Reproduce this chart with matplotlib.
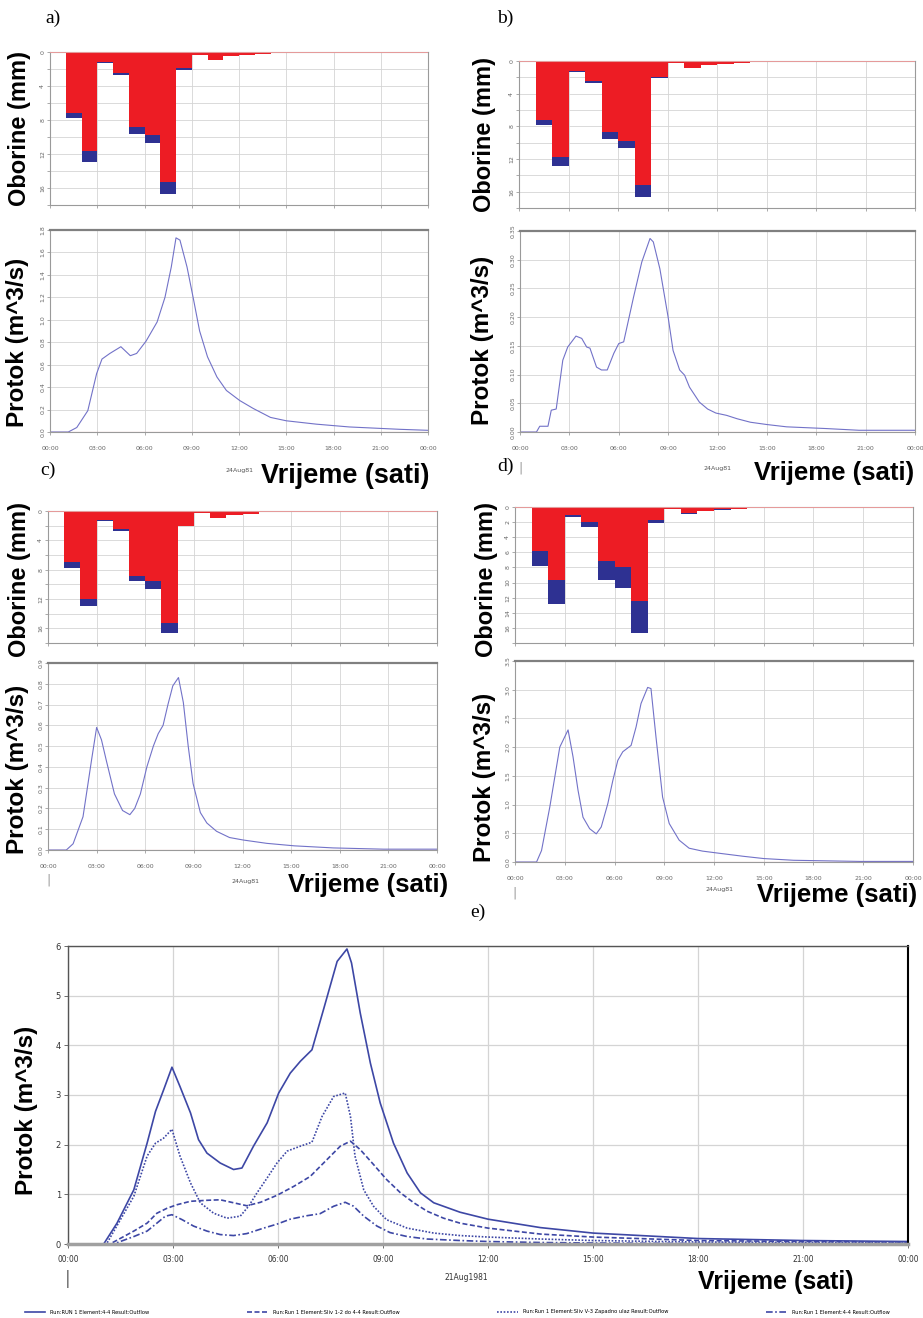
import matplotlib
matplotlib.use('Agg')
import matplotlib.pyplot as plt

W, H = 923, 1318

# hyetograph, 1 h bins (start hour)
rain_hours = [1, 2, 3, 4, 5, 6, 7, 8, 9, 10, 11, 12, 13]
rain_total = [7.8, 12.9, 1.3, 2.7, 9.6, 10.7, 16.7, 2.1, 0.3, 0.9, 0.5, 0.4, 0.2]
excess_a = [0.6, 1.2, 0.1, 0.2, 0.8, 0.9, 1.4, 0.2, 0, 0, 0, 0, 0]
excess_b = [0.6, 1.2, 0.05, 0.2, 0.9, 0.9, 1.5, 0.1, 0, 0, 0, 0, 0]
excess_c = [0.8, 0.9, 0.1, 0.2, 0.8, 1.1, 1.4, 0.1, 0, 0, 0, 0, 0]
excess_d = [2.0, 3.2, 0.2, 0.7, 2.4, 2.7, 4.2, 0.4, 0, 0.1, 0, 0.1, 0]

# hydrographs
t_a = [0, 1.16, 1.7, 2.4, 2.96, 3.3, 3.8, 4.5, 5.1, 5.5, 6.1, 6.8, 7.3, 7.7, 8.0, 8.25, 8.7, 9.1, 9.5,
       10.0, 10.6, 11.2, 12.05, 12.9, 14.0, 15.0, 16.9, 19.0, 22.2, 24]
q_a = [0, 0, 0.04, 0.19, 0.52, 0.65, 0.70, 0.76, 0.68, 0.70, 0.81, 0.98, 1.2, 1.47, 1.73, 1.71, 1.47, 1.19,
       0.9, 0.67, 0.49, 0.37, 0.28, 0.21, 0.13, 0.10, 0.07, 0.045, 0.024, 0.015]

t_b = [0, 1.0, 1.2, 1.7, 1.9, 2.2, 2.6, 2.9, 3.4, 3.75, 4.05, 4.25, 4.65, 4.95, 5.3, 5.7, 6.0, 6.3, 6.9, 7.4,
       7.9, 8.1, 8.5, 9.0, 9.3, 9.7, 10.0, 10.3, 10.9, 11.4, 11.9, 12.55, 13.2, 14.0, 15.0, 16.2, 18.6, 20.6, 24]
q_b = [0, 0, 0.01, 0.01, 0.038, 0.04, 0.125, 0.148, 0.167, 0.163, 0.148, 0.146, 0.113, 0.108, 0.108, 0.137,
       0.154, 0.157, 0.235, 0.296, 0.337, 0.331, 0.284, 0.2, 0.142, 0.108, 0.099, 0.078, 0.052, 0.04, 0.033,
       0.029, 0.023, 0.017, 0.013, 0.009, 0.006, 0.003, 0.003]

t_c = [0, 1.13, 1.55, 2.16, 2.7, 3.0, 3.3, 3.6, 4.1, 4.6, 5.05, 5.35, 5.7, 6.1, 6.5, 6.8, 7.1, 7.4, 7.7, 8.05,
       8.35, 8.65, 8.95, 9.4, 9.8, 10.4, 11.2, 12.05, 13.5, 15.2, 17.6, 20.7, 24]
q_c = [0, 0, 0.03, 0.16, 0.44, 0.59, 0.53, 0.43, 0.27, 0.19, 0.17, 0.20, 0.27, 0.40, 0.5, 0.56, 0.6, 0.7,
       0.79, 0.83, 0.71, 0.5, 0.32, 0.18, 0.13, 0.09, 0.06, 0.048, 0.032, 0.02, 0.01, 0.004, 0.004]

t_d = [0, 1.3, 1.6, 2.1, 2.7, 3.2, 3.5, 3.8, 4.1, 4.5, 4.9, 5.2, 5.6, 5.9, 6.2, 6.5, 7.0, 7.3, 7.6, 8.0,
       8.2, 8.5, 8.9, 9.3, 9.9, 10.5, 11.3, 12.1, 13.75, 15.0, 16.8, 20.8, 24]
q_d = [0, 0, 0.2, 0.96, 2.0, 2.3, 1.83, 1.25, 0.78, 0.58, 0.49, 0.61, 1.02, 1.42, 1.77, 1.92, 2.03, 2.35,
       2.76, 3.04, 3.02, 2.18, 1.13, 0.67, 0.38, 0.24, 0.19, 0.16, 0.1, 0.06, 0.03, 0.01, 0.01]

# panel e
t_e1 = [0, 1.02, 1.4, 1.88, 2.26, 2.5, 2.73, 2.97, 3.2, 3.5, 3.73, 3.97, 4.35, 4.73, 4.97, 5.3, 5.69, 6.02,
        6.35, 6.64, 6.97, 7.3, 7.69, 7.97, 8.1, 8.35, 8.64, 8.92, 9.3, 9.69, 10.07, 10.45, 11.2, 12.0, 13.5,
        15.0, 18.0, 21.0, 24]
q_e1 = [0, 0, 0.42, 1.09, 2.03, 2.67, 3.1, 3.56, 3.17, 2.64, 2.1, 1.83, 1.63, 1.5, 1.53, 1.97, 2.44, 3.04,
        3.44, 3.68, 3.91, 4.72, 5.69, 5.94, 5.66, 4.65, 3.64, 2.84, 2.03, 1.43, 1.03, 0.83, 0.64, 0.5, 0.33,
        0.22, 0.11, 0.07, 0.05]
t_e2 = [0, 1.2, 1.88, 2.26, 2.54, 2.83, 3.11, 3.5, 3.97, 4.35, 4.73, 5.11, 5.5, 5.97, 6.45, 6.92, 7.4, 7.78,
        8.07, 8.35, 8.73, 9.1, 9.5, 9.88, 10.26, 10.73, 11.2, 12.0, 13.5, 15.0, 18.0, 21.0, 24]
q_e2 = [0, 0, 0.26, 0.42, 0.62, 0.72, 0.79, 0.86, 0.88, 0.89, 0.83, 0.77, 0.84, 0.98, 1.16, 1.36, 1.7, 1.97,
        2.07, 1.9, 1.6, 1.3, 1.03, 0.83, 0.66, 0.52, 0.42, 0.32, 0.2, 0.14, 0.07, 0.05, 0.04]
t_e3 = [0, 1.1, 1.88, 2.26, 2.5, 2.73, 2.97, 3.2, 3.5, 3.78, 4.16, 4.54, 4.92, 5.16, 5.4, 5.69, 5.97, 6.26,
        6.64, 6.97, 7.26, 7.59, 7.92, 8.07, 8.2, 8.45, 8.73, 9.1, 9.69, 10.45, 11.2, 12.0, 13.5, 15.0, 18.0,
        21.0, 24]
q_e3 = [0, 0, 0.96, 1.77, 2.03, 2.13, 2.31, 1.77, 1.23, 0.83, 0.62, 0.52, 0.56, 0.76, 1.03, 1.33, 1.63, 1.87,
        1.97, 2.05, 2.57, 2.97, 3.04, 2.57, 1.77, 1.09, 0.76, 0.49, 0.32, 0.22, 0.17, 0.14, 0.1, 0.07, 0.04,
        0.03, 0.02]
t_e4 = [0, 1.3, 1.88, 2.26, 2.54, 2.78, 2.97, 3.26, 3.59, 3.97, 4.35, 4.73, 5.11, 5.59, 5.97, 6.35, 6.83,
        7.2, 7.59, 7.92, 8.16, 8.45, 8.83, 9.2, 9.69, 10.26, 11.2, 12.0, 13.5, 15.0, 18.0, 21.0, 24]
q_e4 = [0, 0, 0.15, 0.26, 0.42, 0.56, 0.59, 0.49, 0.36, 0.26, 0.19, 0.17, 0.21, 0.32, 0.4, 0.5, 0.57, 0.61,
        0.76, 0.84, 0.76, 0.56, 0.36, 0.23, 0.15, 0.1, 0.07, 0.05, 0.03, 0.02, 0.01, 0.01, 0.01]

legend_labels = ["Run:RUN 1 Element:4-4 Result:Outflow",
                 "Run:Run 1 Element:Sliv 1-2 do 4-4 Result:Outflow",
                 "Run:Run 1 Element:Sliv V-3 Zapadno ulaz Result:Outflow",
                 "Run:Run 1 Element:4-4 Result:Outflow"]

time_ticks = [0, 3, 6, 9, 12, 15, 18, 21, 24]
time_labels = ['00:00', '03:00', '06:00', '09:00', '12:00', '15:00', '18:00', '21:00', '00:00']

RED = '#ed1c24'
NAVY = '#2e3192'
LINE = '#7272c8'
GRID = '#d4d4d4'
BOLD = dict(family='Liberation Sans', weight='bold', color='black')


def box(x0, y0, x1, y1):
    return [x0 / W, 1 - y1 / H, (x1 - x0) / W, (y1 - y0) / H]


def ftext(x, y, s, **kw):
    fig.text(x / W, 1 - y / H, s, **kw)


def style(ax):
    for s in ax.spines.values():
        s.set_color('#9a9a9a')
        s.set_linewidth(0.8)
    ax.tick_params(length=2, width=0.5, colors='#888888', labelsize=4.5, labelcolor='#666666', pad=1.5)
    ax.set_axisbelow(True)


def rain_panel(rect, excess, label_step, ymax=18):
    ax = fig.add_axes(box(*rect))
    loss = [t - e for t, e in zip(rain_total, excess)]
    ax.bar(rain_hours, loss, width=1.0, align='edge', color=RED, linewidth=0)
    ax.bar(rain_hours, excess, width=1.0, bottom=loss, align='edge', color=NAVY, linewidth=0)
    ax.axhline(0, color='#f59a9a', lw=1.2, zorder=3)
    ax.set_xlim(0, 24)
    ax.set_ylim(ymax, 0)
    ax.set_xticks(time_ticks)
    ax.set_xticklabels([])
    ax.set_yticks(range(0, ymax + 1, 2))
    ax.set_yticklabels([str(v) if v % label_step == 0 and v < ymax else '' for v in range(0, ymax + 1, 2)],
                       rotation=90, va='center')
    ax.grid(True, color=GRID, lw=0.6)
    style(ax)
    return ax


def flow_panel(rect, t, q, ymax, step, fmt):
    ax = fig.add_axes(box(*rect))
    ax.plot(t, q, color=LINE, lw=0.8)
    ax.axhline(0, color='#e07070', lw=0.8)
    ax.set_xlim(0, 24)
    ax.set_ylim(0, ymax)
    ax.set_xticks(time_ticks)
    ax.set_xticklabels(time_labels, fontsize=4.5)
    n = int(round(ymax / step))
    yt = [i * step for i in range(n + 1)]
    ax.set_yticks(yt)
    ax.set_yticklabels([fmt % v for v in yt], rotation=90, va='center')
    ax.grid(True, color=GRID, lw=0.6)
    style(ax)
    ax.tick_params(axis='x', pad=8)
    ax.spines['top'].set_color('#808080')
    ax.spines['top'].set_linewidth(1.6)
    return ax


fig = plt.figure(figsize=(W / 100, H / 100), dpi=100)

# a)
rain_panel((50, 52, 428, 205), excess_a, 4)
flow_panel((50, 230, 428, 432), t_a, q_a, 1.8, 0.2, '%.1f')
ftext(45, 18, 'a)', family='Liberation Serif', fontsize=14, ha='left', va='center')
ftext(20, 129, 'Oborine (mm)', rotation=90, ha='center', va='center', fontsize=17, **BOLD)
ftext(18, 342, 'Protok (m^3/s)', rotation=90, ha='center', va='center', fontsize=17.5, **BOLD)
ftext(345, 476, 'Vrijeme (sati)', ha='center', va='center', fontsize=19.5, **BOLD)
ftext(240, 470, '24Aug81', ha='center', va='center', fontsize=4.5, color='#555555')

# b)
rain_panel((519, 61, 915, 208), excess_b, 4)
flow_panel((520, 231, 915, 432), t_b, q_b, 0.35, 0.05, '%.2f')
ftext(497, 18, 'b)', family='Liberation Serif', fontsize=14, ha='left', va='center')
ftext(485, 135, 'Oborine (mm)', rotation=90, ha='center', va='center', fontsize=17, **BOLD)
ftext(483, 340, 'Protok (m^3/s)', rotation=90, ha='center', va='center', fontsize=17.5, **BOLD)
ftext(834, 473, 'Vrijeme (sati)', ha='center', va='center', fontsize=18.5, **BOLD)
ftext(718, 468, '24Aug81', ha='center', va='center', fontsize=4.5, color='#555555')
ftext(520, 468, '|', ha='center', va='center', fontsize=9, color='#999999')

# c)
rain_panel((48, 511, 437, 643), excess_c, 4)
flow_panel((48, 663, 437, 850), t_c, q_c, 0.9, 0.1, '%.1f')
ftext(40, 470, 'c)', family='Liberation Serif', fontsize=14, ha='left', va='center')
ftext(20, 579, 'Oborine (mm)', rotation=90, ha='center', va='center', fontsize=17, **BOLD)
ftext(18, 769, 'Protok (m^3/s)', rotation=90, ha='center', va='center', fontsize=17.5, **BOLD)
ftext(368, 885, 'Vrijeme (sati)', ha='center', va='center', fontsize=18.5, **BOLD)
ftext(245, 882, '24Aug81', ha='center', va='center', fontsize=4.5, color='#555555')
ftext(48, 880, '|', ha='center', va='center', fontsize=9, color='#999999')

# d)
rain_panel((515, 507, 913, 643), excess_d, 2)
flow_panel((515, 661, 913, 862), t_d, q_d, 3.5, 0.5, '%.1f')
ftext(497, 466, 'd)', family='Liberation Serif', fontsize=14, ha='left', va='center')
ftext(487, 579, 'Oborine (mm)', rotation=90, ha='center', va='center', fontsize=17, **BOLD)
ftext(484, 777, 'Protok (m^3/s)', rotation=90, ha='center', va='center', fontsize=17.5, **BOLD)
ftext(837, 895, 'Vrijeme (sati)', ha='center', va='center', fontsize=18.5, **BOLD)
ftext(719, 889, '24Aug81', ha='center', va='center', fontsize=4.5, color='#555555')
ftext(515, 893, '|', ha='center', va='center', fontsize=9, color='#999999')

# e)
ax = fig.add_axes(box(68, 946, 908, 1244))
E = '#3d47a5'
l1, = ax.plot(t_e1, q_e1, color=E, lw=1.2, ls='-')
l2, = ax.plot(t_e2, q_e2, color=E, lw=1.2, ls=(0, (3, 1.5)))
l3, = ax.plot(t_e3, q_e3, color=E, lw=1.2, ls=(0, (1, 1)))
l4, = ax.plot(t_e4, q_e4, color=E, lw=1.2, ls=(0, (4, 1.5, 1, 1.5)))
ax.axhline(0, color='#b0b0e0', lw=1.0)
ax.set_xlim(0, 24)
ax.set_ylim(0, 6)
ax.set_xticks(time_ticks)
ax.set_xticklabels(time_labels, fontsize=6, fontstretch='condensed')
ax.set_yticks(range(0, 7))
ax.grid(True, color=GRID, lw=0.9)
ax.set_axisbelow(True)
ax.tick_params(length=3, width=0.6, colors='#555555', labelsize=6, labelcolor='#333333', pad=2)
ax.tick_params(axis='x', pad=5)
for s in ax.spines.values():
    s.set_color('#555555')
    s.set_linewidth(1.0)
ax.spines['bottom'].set_color('#a0a0a0')
ax.spines['bottom'].set_linewidth(2.5)
ax.spines['right'].set_color('black')
ax.spines['right'].set_linewidth(1.5)
ftext(470, 912, 'e)', family='Liberation Serif', fontsize=14, ha='left', va='center')
ftext(27, 1110, 'Protok (m^3/s)', rotation=90, ha='center', va='center', fontsize=17.5, **BOLD)
ftext(776, 1282, 'Vrijeme (sati)', ha='center', va='center', fontsize=18, **BOLD)
ftext(466, 1277, '21Aug1981', ha='center', va='center', fontsize=5.5, color='#333333')
ftext(68, 1279, '|', ha='center', va='center', fontsize=12, color='#666666')

fig.legend([l1, l2, l3, l4], legend_labels, loc='center left', ncol=4,
           bbox_to_anchor=(20 / W, 1 - 1312 / H), frameon=False, fontsize=3.7,
           handlelength=4, columnspacing=19, handletextpad=1.0)

fig.savefig('out.png', dpi=100)
